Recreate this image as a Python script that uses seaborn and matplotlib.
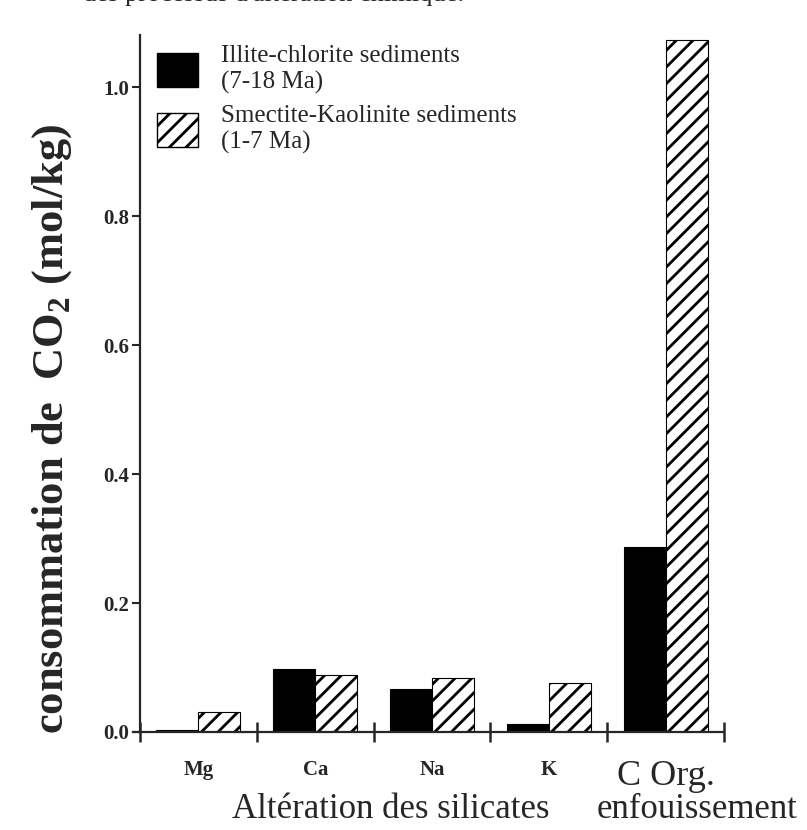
import pandas as pd
import seaborn as sns
import matplotlib.pyplot as plt
from matplotlib.patches import Patch

# values (mol/kg)
elements = ["Mg", "Ca", "Na", "K", "C Org."]
illite_chlorite = [0.003, 0.098, 0.067, 0.012, 0.287]
smectite_kaolinite = [0.031, 0.089, 0.084, 0.076, 1.073]
series_names = ["Illite-chlorite sediments\n(7-18 Ma)",
                "Smectite-Kaolinite sediments\n(1-7 Ma)"]
y_ticks = [0.0, 0.2, 0.4, 0.6, 0.8, 1.0]


def main():
    sns.set_theme(style="ticks")
    plt.rcParams["font.family"] = ["Liberation Serif", "DejaVu Serif"]
    plt.rcParams["mathtext.fontset"] = "custom"
    plt.rcParams["mathtext.rm"] = "Liberation Serif"
    plt.rcParams["mathtext.bf"] = "Liberation Serif:bold"
    plt.rcParams["hatch.linewidth"] = 2.0
    plt.rcParams["hatch.color"] = "black"

    df = pd.DataFrame({
        "element": elements * 2,
        "value": illite_chlorite + smectite_kaolinite,
        "sediment": [series_names[0]] * len(elements) + [series_names[1]] * len(elements),
    })

    fig = plt.figure(figsize=(8.07, 8.30), dpi=100)
    ax = fig.add_axes([0.1648, 0.1181, 0.7323, 0.8397])

    sns.barplot(data=df, x="element", y="value", hue="sediment", order=elements,
                hue_order=series_names, palette=["black", "white"], saturation=1,
                width=0.72, edgecolor="black", linewidth=0.8, legend=False, ax=ax)
    for bar in ax.containers[1]:
        bar.set_hatch("//")

    ax.set_xlim(-0.56, 4.5)
    ax.set_ylim(0, 1.081)
    sns.despine(ax=ax)
    ax.spines["left"].set_position(("data", -0.5))
    ax.spines["left"].set_linewidth(1.6)
    ax.spines["bottom"].set_linewidth(1.6)

    ax.set_yticks(y_ticks)
    ax.set_yticklabels([f"{t:.1f}" for t in y_ticks], fontsize=15, fontweight="bold")
    ax.tick_params(axis="y", direction="out", length=6, width=1.5, pad=2)

    ax.set_xticks(range(len(elements)))
    ax.set_xticklabels(elements)
    ax.set_xticks([i - 0.5 for i in range(len(elements) + 1)], minor=True)
    ax.tick_params(axis="x", which="major", length=0, pad=20)
    ax.tick_params(axis="x", which="minor", direction="inout", length=14, width=1.8)
    for lab in ax.get_xticklabels():
        if lab.get_text() == "C Org.":
            lab.set_fontsize(26)
        else:
            lab.set_fontsize(15)
            lab.set_fontweight("bold")

    ax.set_xlabel("")
    ax.set_ylabel(r"consommation de  CO$_\mathbf{2}$ (mol/kg)", fontsize=32,
                  fontweight="bold")
    ax.yaxis.set_label_coords(-0.10, 0.435)

    trans = ax.get_xaxis_transform()
    ax.text(1.645, -0.124, "Altération des silicates", transform=trans,
            ha="center", va="baseline", fontsize=25)
    ax.text(4.27, -0.124, "enfouissement", transform=trans,
            ha="center", va="baseline", fontsize=25)

    handles = [Patch(facecolor="black", edgecolor="black"),
               Patch(facecolor="white", edgecolor="black", hatch="//")]
    ax.legend(handles, series_names, loc="upper left", bbox_to_anchor=(0.041, 0.985),
              frameon=False, fontsize=18, handlelength=1.64, handleheight=1.72,
              handletextpad=0.9, labelspacing=0.45, borderpad=0, borderaxespad=0)

    # caption text from the page, cut off by the crop
    fig.text(83 / 807, 1 - 1.5 / 830, "des processus d'altération chimique.",
             ha="left", va="baseline", fontsize=19)

    fig.savefig("out.png", dpi=100)


if __name__ == "__main__":
    main()
